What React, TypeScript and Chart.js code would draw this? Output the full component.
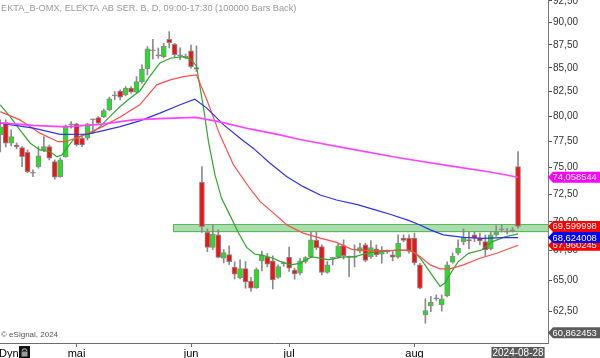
import React, { useEffect, useRef } from "react";
import { Chart, registerables } from "chart.js";

Chart.register(...registerables);

// ---- Trading days (2024) ----
const aprDays = [11, 12, 15, 16, 17, 18, 19, 22, 23, 24, 25, 26, 29, 30];
const mayDays = [2, 3, 6, 7, 8, 10, 13, 14, 15, 16, 17, 20, 21, 22, 23, 24, 27, 28, 29, 30, 31];
const junDays = [3, 4, 5, 7, 10, 11, 12, 13, 14, 17, 18, 19, 20, 24, 25, 26, 27, 28];
const julDays = [1, 2, 3, 4, 5, 8, 9, 10, 11, 12, 15, 16, 17, 18, 19, 22, 23, 24, 25, 26, 29, 30, 31];
const augDays = [1, 2, 5, 6, 7, 8, 9, 12, 13, 14, 15, 16, 19, 20, 21, 22, 23, 26, 27, 28];

const pad = (n: number) => (n < 10 ? "0" + n : "" + n);
const dates: string[] = [
  ...aprDays.map((d) => "2024-04-" + pad(d)),
  ...mayDays.map((d) => "2024-05-" + pad(d)),
  ...junDays.map((d) => "2024-06-" + pad(d)),
  ...julDays.map((d) => "2024-07-" + pad(d)),
  ...augDays.map((d) => "2024-08-" + pad(d)),
];

// ---- OHLC ----
const opens = [
  78.12, 79.34, 77.3, 77.13, 76.87, 76.43, 74.43, 75.05, 76.65, 76.97,
  75.53, 74.11, 75.99, 79.11, 79.21, 77.79, 77.79, 79.61, 79.84, 79.94,
  80.62, 82.06, 82.57, 82.16, 82.86, 82.44, 83.55, 84.92, 86.85, 86.3,
  86.23, 88.14, 87.58, 86.3, 86.1, 86.85, 85.03, 73.59, 69.08, 67.78,
  68.86, 66.86, 67.17, 66.12, 65.24, 65.99, 64.97, 64.41, 66.64, 66.97,
  66.64, 65.26, 66.39, 66.95, 65.86, 65.61, 66.6, 67.0, 68.39, 67.85,
  65.68, 66.86, 67.0, 67.93, 66.93, 66.93, 67.47, 68.0, 66.97, 67.65,
  67.2, 67.42, 67.14, 66.95, 68.58, 68.58, 68.58, 66.3, 62.25, 62.96,
  63.52, 63.04, 63.76, 66.53, 67.28, 68.28, 68.45, 68.86, 68.58, 68.28,
  67.65, 68.86, 69.3, 69.1, 69.21, 75.05,
];
const highs = [
  79.61, 79.61, 78.62, 77.33, 76.97, 76.65, 74.74, 76.97, 77.95, 77.13,
  75.69, 75.88, 79.11, 79.44, 79.28, 77.95, 79.28, 79.68, 79.94, 80.7,
  81.93, 82.5, 82.68, 83.03, 83.03, 84.08, 85.33, 87.32, 88.14, 87.17,
  87.69, 88.99, 87.69, 87.2, 86.5, 87.5, 87.39, 75.05, 69.38, 69.69,
  69.3, 67.6, 67.91, 66.56, 66.72, 66.58, 65.26, 66.05, 67.47, 67.27,
  67.06, 66.3, 66.56, 67.8, 66.03, 66.86, 67.0, 69.15, 69.1, 68.0,
  66.58, 66.95, 68.14, 68.43, 67.06, 68.0, 68.14, 68.14, 68.37, 68.0,
  67.85, 67.56, 67.42, 68.86, 68.86, 68.86, 69.01, 66.44, 63.52, 63.72,
  63.84, 63.84, 66.56, 67.31, 68.43, 69.38, 69.1, 69.15, 69.01, 68.86,
  69.15, 69.67, 69.73, 69.44, 69.5, 76.49,
];
const lows = [
  76.46, 76.94, 77.04, 76.75, 75.05, 74.46, 74.11, 74.9, 76.49, 75.69,
  73.87, 74.06, 75.93, 78.78, 77.04, 76.97, 77.62, 78.29, 79.21, 79.84,
  80.55, 81.65, 81.65, 82.06, 82.34, 82.37, 83.39, 84.26, 85.95, 86.05,
  86.09, 87.17, 86.23, 85.9, 86.0, 84.97, 84.61, 69.08, 67.42, 67.6,
  66.89, 66.47, 66.33, 65.13, 65.13, 64.38, 64.11, 64.37, 65.8, 66.14,
  64.32, 65.18, 66.18, 65.75, 65.11, 65.47, 66.44, 66.95, 67.6, 65.47,
  65.61, 66.3, 66.86, 66.78, 65.33, 66.14, 67.31, 66.56, 66.85, 67.0,
  66.44, 67.28, 66.64, 66.86, 68.26, 67.28, 66.3, 64.32, 61.6, 62.5,
  63.4, 62.55, 63.68, 66.44, 67.14, 68.0, 67.65, 68.28, 68.0, 67.08,
  67.56, 68.72, 69.1, 68.95, 69.1, 69.44,
];
const closes = [
  78.91, 77.3, 77.95, 76.97, 75.99, 74.58, 74.43, 76.08, 76.97, 75.85,
  74.06, 75.69, 79.01, 79.11, 77.13, 77.13, 79.21, 79.61, 79.28, 80.55,
  81.75, 82.06, 81.93, 82.86, 82.44, 83.55, 84.86, 87.07, 86.85, 86.3,
  87.36, 87.76, 86.44, 86.3, 86.25, 85.14, 84.86, 69.58, 67.78, 68.92,
  66.93, 67.35, 66.58, 65.54, 66.0, 64.89, 64.38, 65.91, 67.14, 66.36,
  65.05, 66.16, 66.39, 66.03, 65.55, 66.64, 66.91, 68.43, 67.76, 65.68,
  66.3, 66.86, 67.91, 67.08, 66.93, 66.93, 67.76, 66.68, 67.76, 67.14,
  67.56, 67.42, 66.95, 68.14, 68.37, 67.47, 66.47, 64.38, 62.58, 63.24,
  63.52, 63.52, 66.3, 67.02, 67.71, 68.63, 68.34, 68.58, 68.34, 67.56,
  68.86, 69.15, 69.3, 69.1, 69.21, 69.6,
];

// ---- Moving averages: [bar index, value] ----
const maShort: [number, number][] = [
  [0, 81.14], [1.8, 79.94], [3.6, 78.62], [5.5, 77.3], [7.3, 76.65], [9.1, 76.49],
  [10.4, 75.99], [11.3, 76.17], [12.2, 76.82], [13.4, 77.62], [15.2, 78.12], [16.8, 78.29],
  [18.3, 78.94], [20.1, 79.94], [22, 80.96], [23.8, 81.82], [25.6, 82.57], [27.5, 84.16],
  [29.3, 85.54], [31.2, 86.05], [33.5, 86.23], [34.8, 85.98], [36, 85.22], [37.3, 80.8],
  [38.2, 77.45], [39.4, 74.27], [40.6, 72.11], [42.2, 70.53], [43.7, 69.04], [45.2, 67.78],
  [46.7, 67.22], [48.3, 67.08], [50.1, 66.86], [51.3, 66.6], [53.2, 66.3], [55, 66.43],
  [57.1, 66.97], [58.4, 66.89], [60.2, 66.72], [62.6, 66.95], [65.1, 67.0], [67.5, 67.31],
  [70, 67.43], [72.4, 67.52], [74.9, 67.56], [76.1, 67.31], [77.3, 66.72], [79.2, 65.47],
  [80.7, 64.53], [81.6, 64.81], [82.8, 65.72], [84, 66.56], [85.9, 67.27], [88.3, 67.56],
  [90.2, 68.26], [92.6, 68.69], [95, 68.95],
];
const maMid: [number, number][] = [
  [0, 80.45], [3.6, 79.61], [7.3, 78.29], [10.6, 77.45], [11.9, 77.45], [14.6, 77.92],
  [18.3, 78.81], [22, 79.91], [25.6, 81.14], [28.7, 83.21], [31.2, 83.73], [33.6, 84.08],
  [36, 84.26], [37.9, 81.65], [40.3, 78.12], [42.8, 75.21], [45.8, 73.01], [47.7, 71.81],
  [50.1, 70.8], [52.6, 69.73], [55.6, 69.01], [58.7, 68.58], [61.7, 68.21], [64.5, 67.62],
  [67.5, 67.5], [70.6, 67.5], [73.7, 67.56], [75.5, 67.47], [77, 67.0], [78.9, 66.3],
  [80.7, 65.97], [82.5, 65.97], [85, 66.3], [88, 66.86], [91.1, 67.28], [95, 67.96],
];
const maLong: [number, number][] = [
  [0, 79.28], [6.1, 78.78], [11, 78.17], [15.9, 78.18], [18.3, 78.46], [22, 78.94],
  [25.6, 79.51], [29.3, 80.29], [33, 81.14], [35.7, 81.72], [37.9, 80.8], [41, 79.11],
  [44, 77.79], [46.4, 76.82], [49.5, 75.38], [52.6, 74.11], [55.6, 73.18], [58.7, 72.41],
  [61.7, 71.96], [65.7, 71.51], [68.8, 71.07], [71.8, 70.63], [74.9, 70.13], [77, 69.73],
  [78.9, 69.3], [81.3, 68.86], [85, 68.65], [88.6, 68.56], [92.3, 68.62], [95, 68.62],
];
const maVeryLong: [number, number][] = [
  [0, 79.31], [6, 79.06], [12, 78.91], [18.3, 79.16], [24.4, 79.61], [30.4, 79.76],
  [35.9, 79.86], [40.3, 79.41], [45.8, 78.71], [51.3, 78.12], [55, 77.67], [64.2, 76.75],
  [73.4, 75.88], [82.5, 75.12], [89.9, 74.55], [95, 74.06],
];

// ---- Zone, ticks, tags ----
const bandStartIdx = 31.75;
const bandRange = [69.08, 69.78];
const yTickValues = [62.5, 65, 67.5, 70, 72.5, 75, 77.5, 80, 82.5, 85, 87.5, 90, 92.5];
const monthTickIdx = [14, 35, 53, 76];
const monthNames = ["mai", "jun", "jul", "aug"];
const tagValues = [60.862453, 74.058544, 67.960245, 68.624008, 69.599998];
const tagColors = ["#5c5c5c", "#ff00ff", "#ff0000", "#0000ff", "#ff0000"];
const titleText = "EKTA_B-OMX, ELEKTA AB SER. B, D, 09:00-17:30 (100000 Bars Back)";

const X_MIN = -0.05;
const X_MAX = 100.5;
const Y_MIN = 60.08;
const Y_MAX = 92.61;

const FONT = "'Liberation Sans', Arial, sans-serif";
const fmt2 = (v: number) => v.toFixed(2).replace(".", ",");
const fmt6 = (v: number) => v.toFixed(6).replace(".", ",");

const overlayPlugin = {
  id: "overlay",
  beforeDatasetsDraw(chart: any) {
    const { ctx, chartArea, scales } = chart;
    const x = scales.x;
    const y = scales.y;
    const x0 = x.getPixelForValue(bandStartIdx);
    const yTop = y.getPixelForValue(bandRange[1]);
    const yBot = y.getPixelForValue(bandRange[0]);
    ctx.save();
    ctx.beginPath();
    ctx.rect(chartArea.left, chartArea.top, chartArea.width, chartArea.height);
    ctx.clip();
    ctx.fillStyle = "#abdcab";
    ctx.fillRect(x0, yTop, chartArea.right - x0, yBot - yTop);
    ctx.strokeStyle = "#5cb85c";
    ctx.lineWidth = 1;
    ctx.strokeRect(Math.round(x0) + 0.5, Math.round(yTop) + 0.5, chartArea.right - Math.round(x0), Math.round(yBot - yTop) - 1);
    ctx.restore();
  },
  afterDraw(chart: any) {
    const { ctx, chartArea, scales } = chart;
    const x = scales.x;
    const y = scales.y;
    ctx.save();
    // title
    ctx.font = "9.2px " + FONT;
    ctx.fillStyle = "#9a9a9a";
    ctx.textBaseline = "middle";
    ctx.textAlign = "left";
    ctx.fillText(titleText, 1, 8);
    // copyright
    ctx.font = "8px " + FONT;
    ctx.fillStyle = "#555";
    ctx.fillText("\u00a9 eSignal, 2024", 1, 335);
    // Dyn + lock
    ctx.font = "11px " + FONT;
    ctx.fillStyle = "#000";
    ctx.textBaseline = "alphabetic";
    ctx.fillText("Dyn", -1, 357);
    ctx.fillStyle = "#111";
    ctx.fillRect(19, 346, 11, 12);
    ctx.strokeStyle = "#9a9a9a";
    ctx.lineWidth = 1.2;
    ctx.beginPath();
    ctx.arc(24.5, 351, 2.2, Math.PI, 0);
    ctx.stroke();
    ctx.fillStyle = "#9a9a9a";
    ctx.fillRect(21.5, 351.5, 6, 5);

    // value tags on right axis
    const tipX = chartArea.right;
    tagValues.forEach((v, k) => {
      const py = y.getPixelForValue(v);
      ctx.fillStyle = tagColors[k];
      ctx.beginPath();
      ctx.moveTo(tipX, py);
      ctx.lineTo(tipX + 5, py - 5.5);
      ctx.lineTo(600, py - 5.5);
      ctx.lineTo(600, py + 5.5);
      ctx.lineTo(tipX + 5, py + 5.5);
      ctx.closePath();
      ctx.fill();
      ctx.fillStyle = "#fff";
      ctx.font = "9.4px " + FONT;
      ctx.textBaseline = "middle";
      ctx.textAlign = "left";
      ctx.fillText(fmt6(v), tipX + 4.5, py + 0.5);
    });

    // last date box
    const last = dates.length - 1;
    const cx = x.getPixelForValue(last);
    ctx.font = "10px " + FONT;
    const w = ctx.measureText(dates[last]).width + 2;
    ctx.fillStyle = "#5a5a5a";
    ctx.fillRect(cx - w / 2, 347, w, 11);
    ctx.fillStyle = "#fff";
    ctx.textAlign = "center";
    ctx.textBaseline = "middle";
    ctx.fillText(dates[last], cx, 353);
    ctx.restore();
  },
};

export default function App() {
  const ref = useRef<HTMLCanvasElement | null>(null);

  useEffect(() => {
    if (!ref.current) return;
    Chart.defaults.font.family = FONT;

    const bodyColors = opens.map((o, i) =>
      closes[i] > o ? "#22e022" : closes[i] < o ? "#ee1515" : "#8a8a8a"
    );

    const lineDs = (pts: [number, number][], color: string, width: number) => ({
      type: "line",
      data: pts.map(([i, v]) => ({ x: i, y: v })),
      borderColor: color,
      borderWidth: width,
      pointRadius: 0,
      fill: false,
      tension: 0,
      order: 0,
    });

    const chart = new Chart(ref.current, {
      type: "bar",
      data: {
        datasets: [
          lineDs(maVeryLong, "#ff44ff", 1.6),
          lineDs(maLong, "#3030f0", 1.2),
          lineDs(maMid, "#ff4d4d", 1.2),
          lineDs(maShort, "#2fa82f", 1.2),
          {
            type: "bar",
            data: dates.map((_, i) => ({ x: i, y: [opens[i], closes[i]] })),
            backgroundColor: bodyColors,
            borderColor: "#8a8a8a",
            borderWidth: 1,
            borderSkipped: false,
            barThickness: 5,
            minBarLength: 1,
            grouped: false,
            order: 1,
          },
          {
            type: "bar",
            data: dates.map((_, i) => ({ x: i, y: [lows[i], highs[i]] })),
            backgroundColor: "#8a8a8a",
            borderWidth: 0,
            barThickness: 1,
            grouped: false,
            order: 2,
          },
        ] as any,
      },
      options: {
        responsive: true,
        maintainAspectRatio: false,
        animation: false,
        events: [],
        layout: { padding: 0 },
        plugins: { legend: { display: false }, tooltip: { enabled: false } },
        scales: {
          x: {
            type: "linear",
            position: "bottom",
            min: X_MIN,
            max: X_MAX,
            offset: false,
            grid: {
              display: true,
              drawOnChartArea: false,
              drawTicks: true,
              tickLength: 4,
              color: "#666",
              offset: false,
            },
            border: { display: true, color: "#6e6e6e", width: 1 },
            ticks: {
              autoSkip: false,
              maxRotation: 0,
              padding: 0,
              color: "#000",
              font: { size: 11 },
              callback: (v: any) => {
                const k = monthTickIdx.indexOf(Number(v));
                return k >= 0 ? monthNames[k] : "";
              },
            },
            afterBuildTicks: (s: any) => {
              s.ticks = monthTickIdx.map((v) => ({ value: v }));
            },
            afterFit: (s: any) => {
              s.height = 15;
              s.paddingLeft = 0;
              s.paddingRight = 0;
            },
          },
          y: {
            type: "logarithmic",
            position: "right",
            min: Y_MIN,
            max: Y_MAX,
            grid: { drawOnChartArea: false, tickLength: 4, color: "#555" },
            border: { display: true, color: "#7a7a7a", width: 1 },
            ticks: {
              autoSkip: false,
              padding: 1,
              color: "#333",
              font: { size: 10 },
              callback: (v: any) => fmt2(Number(v)),
            },
            afterBuildTicks: (s: any) => {
              s.ticks = yTickValues.map((v) => ({ value: v }));
            },
            afterFit: (s: any) => {
              s.width = 52;
              s.paddingTop = 0;
              s.paddingBottom = 0;
            },
          },
        },
      } as any,
      plugins: [overlayPlugin],
    });

    return () => chart.destroy();
  }, []);

  return (
    <div style={{ position: "fixed", left: 0, top: 0, width: 600, height: 358, background: "#fff" }}>
      <canvas ref={ref} />
    </div>
  );
}
